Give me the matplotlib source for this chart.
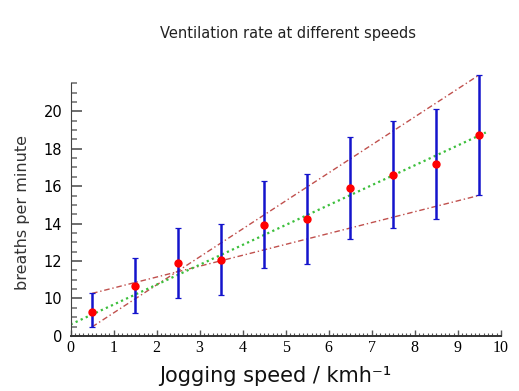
import matplotlib
matplotlib.use("Agg")
import matplotlib.pyplot as plt
from matplotlib.ticker import MultipleLocator, FixedLocator

# speeds (km/h) and mean ventilation rate with error bar ends
speed = [0.5, 1.5, 2.5, 3.5, 4.5, 5.5, 6.5, 7.5, 8.5, 9.5]
rate = [9.28, 10.66, 11.87, 12.05, 13.92, 14.23, 15.89, 16.60, 17.17, 18.73]
rate_hi = [10.27, 12.16, 13.78, 13.99, 16.28, 16.65, 18.64, 19.49, 20.13, 21.95]
rate_lo = [8.48, 9.20, 10.03, 10.19, 11.61, 11.84, 13.17, 13.78, 14.25, 15.51]

# best fit line
fit_x = [0.0, 9.65]
fit_y = [8.61, 18.87]

# y axis is broken: the bottom tick reads 0
ytick_pos = [8, 10, 12, 14, 16, 18, 20]
ytick_lab = ["0", "10", "12", "14", "16", "18", "20"]

fig = plt.figure(figsize=(5.19, 3.91), dpi=100)
ax = fig.add_axes([0.136, 0.141, 0.829, 0.646])

yerr = [[r - lo for r, lo in zip(rate, rate_lo)],
        [hi - r for r, hi in zip(rate, rate_hi)]]

# steepest / shallowest lines through the error bar ends
for ends in ([rate_lo[0], rate_hi[-1]], [rate_hi[0], rate_lo[-1]]):
    ax.plot([speed[0], speed[-1]], ends, color="#c0504d",
            linestyle=(0, (4, 2, 1, 2)), lw=1.0, clip_on=False, zorder=2)
ax.plot(fit_x, fit_y, color="#3cbf3c", linestyle=(0, (1, 1.5)), lw=1.6,
        zorder=2)

eb = ax.errorbar(speed, rate, yerr=yerr, fmt="none", ecolor="#1414cc",
                 elinewidth=1.8, capsize=2, capthick=0.9, zorder=3)
for art in eb.lines[1] + eb.lines[2]:
    art.set_clip_on(False)
ax.plot(speed, rate, "o", color="#ff0000", ms=5, zorder=4, clip_on=False)

ax.set_xlim(0, 10)
ax.set_ylim(8, 21.5)

ax.spines["top"].set_visible(False)
ax.spines["right"].set_visible(False)
ax.spines["left"].set_color("#444444")
ax.spines["bottom"].set_color("#333333")
ax.spines["bottom"].set_linewidth(1.4)

ax.xaxis.set_major_locator(MultipleLocator(1))
ax.xaxis.set_minor_locator(MultipleLocator(0.1))
ax.yaxis.set_major_locator(FixedLocator(ytick_pos))
ax.set_yticklabels(ytick_lab)
ax.yaxis.set_minor_locator(MultipleLocator(0.5))

ax.tick_params(axis="x", which="major", direction="in", length=4, width=1,
               color="#555555", labelsize=11.5, pad=3)
ax.tick_params(axis="x", which="minor", direction="in", length=2.2, width=0.8,
               color="#555555")
ax.tick_params(axis="y", which="major", direction="in", length=8, width=1.2,
               color="#555555", labelsize=10.5, pad=6)
ax.tick_params(axis="y", which="minor", direction="in", length=4, width=1.2,
               color="#777777")
for lab in ax.get_xticklabels():
    lab.set_fontfamily("Liberation Serif")

ax.set_xlabel("Jogging speed / kmh⁻¹", fontsize=15, color="#111111")
ax.xaxis.set_label_coords(0.475, -0.12)
ax.set_ylabel("breaths per minute", fontsize=11.5, color="#333333")
ax.yaxis.set_label_coords(-0.095, 0.49)
fig.text(0.555, 0.915, "Ventilation rate at different speeds", ha="center",
         va="center", fontsize=10.5, color="#222222")

fig.savefig("out.png", dpi=100)
